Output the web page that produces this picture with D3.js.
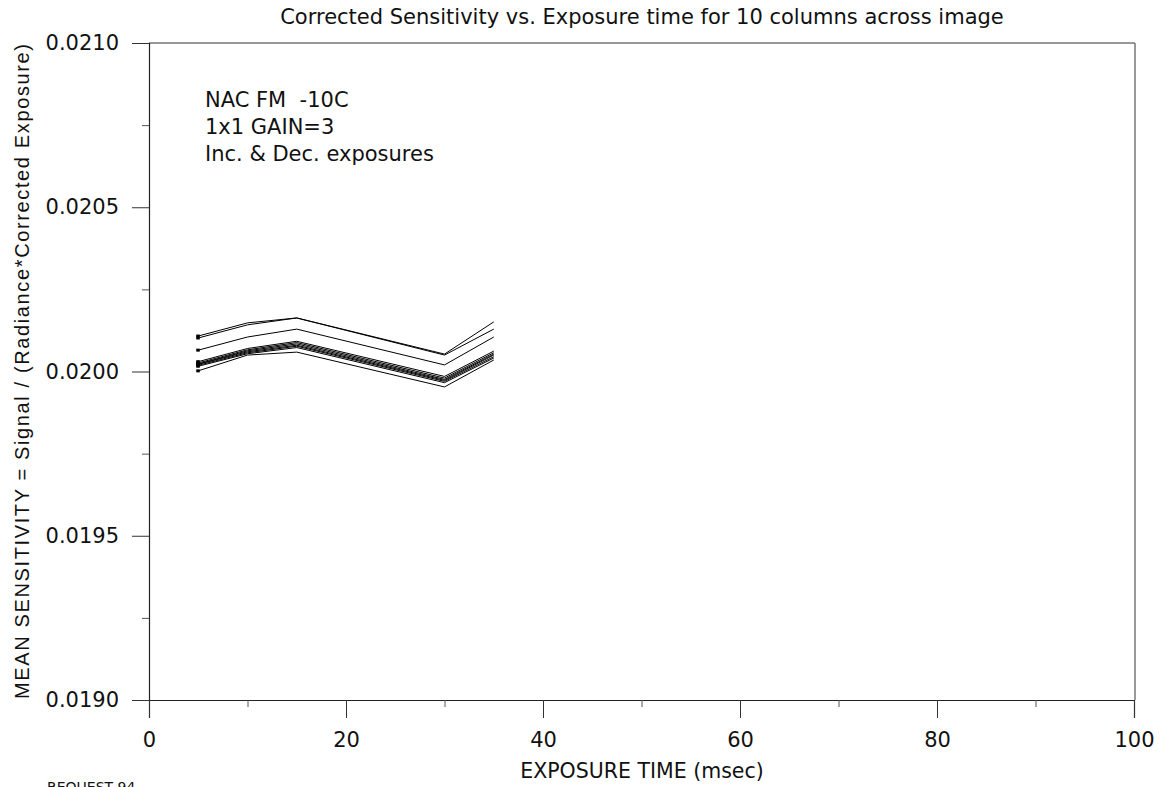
<!DOCTYPE html>
<html>
<head>
<meta charset="utf-8">
<script src="https://cdn.jsdelivr.net/npm/d3@7"></script>
<style>
  body { margin: 0; background: #fff; }
  svg text { font-family: "DejaVu Sans", sans-serif; fill: #111; }
</style>
</head>
<body>
<div id="chart"></div>
<script>
// exposure times (msec) at which each column was measured
var exposures = [5, 10, 15, 30, 35];

// mean sensitivity for each of the 10 columns
var col1  = [0.020108, 0.020148, 0.020163, 0.020053, 0.020151];
var col2  = [0.020102, 0.020142, 0.020163, 0.020050, 0.020129];
var col3  = [0.020065, 0.020105, 0.020129, 0.020020, 0.020105];
var col4  = [0.020030, 0.020070, 0.020092, 0.019985, 0.020062];
var col5  = [0.020026, 0.020066, 0.020088, 0.019980, 0.020057];
var col6  = [0.020023, 0.020063, 0.020084, 0.019976, 0.020053];
var col7  = [0.020022, 0.020060, 0.020080, 0.019973, 0.020050];
var col8  = [0.020019, 0.020057, 0.020077, 0.019970, 0.020045];
var col9  = [0.020016, 0.020054, 0.020073, 0.019966, 0.020041];
var col10 = [0.020002, 0.020050, 0.020059, 0.019953, 0.020035];
var columns = [col1, col2, col3, col4, col5, col6, col7, col8, col9, col10];

var xTicks = [0, 20, 40, 60, 80, 100];
var xMinor = [10, 30, 50, 70, 90];
var yTicks = [0.0190, 0.0195, 0.0200, 0.0205, 0.0210];
var yMinor = [0.01925, 0.01975, 0.02025, 0.02075];

var notes = ["NAC FM  -10C", "1x1 GAIN=3", "Inc. & Dec. exposures"];

(function() {
var W = 1164, H = 787;
var mLeft = 149, mRight = 1135, mTop = 43, mBottom = 700;

var svg = d3.select("#chart").append("svg")
    .attr("width", W)
    .attr("height", H);

var x = d3.scaleLinear().domain([0, 100]).range([mLeft, mRight - 1]);
var y = d3.scaleLinear().domain([0.0190, 0.0210]).range([mBottom, mTop]);

// frame: top and right edges
svg.append("line")
    .attr("x1", mLeft).attr("x2", mRight)
    .attr("y1", mTop).attr("y2", mTop)
    .attr("stroke", "#333").attr("stroke-width", 1.2);
svg.append("line")
    .attr("x1", mRight).attr("x2", mRight)
    .attr("y1", mTop).attr("y2", mBottom)
    .attr("stroke", "#777").attr("stroke-width", 1.5);

// y axis, ticks pointing out
var yAxis = svg.append("g")
    .attr("transform", "translate(" + mLeft + ",0)")
    .call(d3.axisLeft(y).tickValues(yTicks).tickSize(17).tickPadding(13)
        .tickFormat(d3.format(".4f")));
yAxis.select(".domain").attr("stroke", "#222").attr("stroke-width", 1.2);
yAxis.selectAll("text").style("font-size", "21px")
    .attr("font-family", "DejaVu Sans");
yAxis.selectAll(".tick line").attr("stroke", "#333");
svg.append("g")
    .attr("transform", "translate(" + mLeft + ",0)")
    .call(d3.axisLeft(y).tickValues(yMinor).tickSize(7).tickFormat(""))
    .call(function(g) { g.select(".domain").remove(); })
    .selectAll("line").attr("stroke", "#555");

// x axis
var xAxis = svg.append("g")
    .attr("transform", "translate(0," + mBottom + ")")
    .call(d3.axisBottom(x).tickValues(xTicks).tickSize(18).tickPadding(14)
        .tickFormat(d3.format("d")));
xAxis.select(".domain").attr("stroke", "#222").attr("stroke-width", 1.2);
xAxis.selectAll("text").style("font-size", "21px")
    .attr("font-family", "DejaVu Sans");
xAxis.selectAll(".tick line").attr("stroke", "#333");
svg.append("g")
    .attr("transform", "translate(0," + mBottom + ")")
    .call(d3.axisBottom(x).tickValues(xMinor).tickSize(7).tickFormat(""))
    .call(function(g) { g.select(".domain").remove(); })
    .selectAll("line").attr("stroke", "#555");

// the 10 column curves
var line = d3.line()
    .x(function(d, i) { return x(exposures[i]); })
    .y(function(d) { return y(d); });

svg.selectAll("path.col").data(columns).enter()
    .append("path")
    .attr("class", "col")
    .attr("d", line)
    .attr("fill", "none")
    .attr("stroke", "#000")
    .attr("stroke-width", 1);

// small square marker at the first point of each curve
svg.selectAll("rect.mark").data(columns).enter()
    .append("rect")
    .attr("class", "mark")
    .attr("x", function(d) { return x(exposures[0]) - 2; })
    .attr("y", function(d) { return y(d[0]) - 1.5; })
    .attr("width", 3.5)
    .attr("height", 3)
    .attr("fill", "#000");

// titles and labels
svg.append("text")
    .attr("x", (mLeft + mRight) / 2).attr("y", 24)
    .attr("text-anchor", "middle")
    .style("font-size", "21px")
    .text("Corrected Sensitivity vs. Exposure time for 10 columns across image");

svg.append("text")
    .attr("x", (mLeft + mRight) / 2).attr("y", 778)
    .attr("text-anchor", "middle")
    .style("font-size", "20.5px")
    .text("EXPOSURE TIME (msec)");

svg.append("text")
    .attr("transform", "translate(29," + ((mTop + mBottom) / 2) + ") rotate(-90)")
    .attr("text-anchor", "middle")
    .style("font-family", "Liberation Sans, Arial, sans-serif")
    .style("font-size", "20px")
    .attr("textLength", 655)
    .attr("lengthAdjust", "spacing")
    .text("MEAN SENSITIVITY = Signal / (Radiance*Corrected Exposure)");

svg.selectAll("text.note").data(notes).enter()
    .append("text")
    .attr("class", "note")
    .attr("x", 205)
    .attr("y", function(d, i) { return 107 + i * 27; })
    .style("font-size", "21px")
    .style("white-space", "pre")
    .text(function(d) { return d; });

svg.append("text")
    .attr("x", 47).attr("y", 792)
    .style("font-size", "14px")
    .text("REQUEST 94");
})();
</script>
</body>
</html>
